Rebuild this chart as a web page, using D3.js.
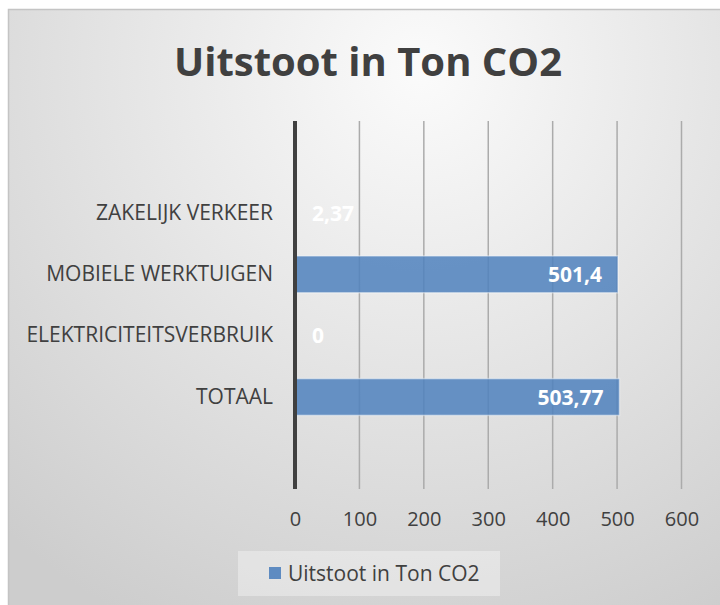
<!DOCTYPE html>
<html>
<head>
<meta charset="utf-8">
<script src="https://d3js.org/d3.v7.min.js"></script>
<style>
    html, body { margin: 0; padding: 0; background: #fff; }
    svg { display: block; }
</style>
</head>
<body>
<div id="chart"></div>
<script>
// Categories top to bottom (Excel had an empty row above and below)
const categories = ["", "ZAKELIJK VERKEER", "MOBIELE WERKTUIGEN", "ELEKTRICITEITSVERBRUIK", "TOTAAL", " "];
const values = [null, 2.37, 501.4, 0, 503.77, null];
const valueLabels = [null, "2,37", "501,4", "0", "503,77", null];
const xTicks = [0, 100, 200, 300, 400, 500, 600];
const title = "Uitstoot in Ton CO2";
const seriesName = "Uitstoot in Ton CO2";

const W = 720, H = 605;
const margin = { top: 121, right: 38, bottom: 116, left: 295 };
const width = 681.5 - margin.left;
const height = 489 - margin.top;

const svg = d3.select("#chart").append("svg")
    .attr("width", W)
    .attr("height", H);

// background gradient
const defs = svg.append("defs");
const grad = defs.append("radialGradient")
    .attr("id", "bg")
    .attr("gradientUnits", "userSpaceOnUse")
    .attr("cx", 420).attr("cy", 70).attr("r", 620);
grad.append("stop").attr("offset", "0%").attr("stop-color", "#fbfbfb");
grad.append("stop").attr("offset", "100%").attr("stop-color", "#cdcdcd");

svg.append("rect")
    .attr("x", 8.5).attr("y", 9.5)
    .attr("width", W + 2).attr("height", H + 2)
    .attr("fill", "url(#bg)")
    .attr("stroke", "#c4c4c4")
    .attr("stroke-width", 1.5);

svg.append("text")
    .attr("x", 368)
    .attr("y", 76)
    .attr("text-anchor", "middle")
    .attr("font-family", "'Open Sans', sans-serif")
    .attr("font-weight", "bold")
    .attr("font-size", 40)
    .attr("fill", "#404040")
    .text(title);

const g = svg.append("g")
    .attr("transform", `translate(${margin.left},${margin.top})`);

const x = d3.scaleLinear()
    .domain([0, 600])
    .range([0, width]);

const y = d3.scaleBand()
    .domain(categories)
    .range([0, height])
    .paddingInner(0.4)
    .paddingOuter(0.2);

// gridlines
g.append("g")
    .selectAll("line")
    .data(xTicks.slice(1))
    .enter().append("line")
    .attr("x1", d => x(d)).attr("x2", d => x(d))
    .attr("y1", 0).attr("y2", height)
    .attr("stroke", "#ababab")
    .attr("stroke-width", 1.5);

// bars
const rows = categories.map((c, i) => ({ cat: c, v: values[i], label: valueLabels[i] }))
    .filter(d => d.v !== null);

g.append("g")
    .selectAll("rect")
    .data(rows)
    .enter().append("rect")
    .attr("x", x(0))
    .attr("y", d => y(d.cat))
    .attr("width", d => x(d.v) - x(0))
    .attr("height", y.bandwidth())
    .attr("fill", "rgba(79,129,189,0.85)")
    .attr("stroke", "rgba(255,255,255,0.45)")
    .attr("stroke-width", 1.5);

// value labels (inside end, or just right of the axis for tiny bars)
g.append("g")
    .selectAll("text")
    .data(rows)
    .enter().append("text")
    .attr("x", d => (x(d.v) - x(0) > 80) ? x(d.v) - 16 : x(0) + 17)
    .attr("y", d => y(d.cat) + y.bandwidth() / 2)
    .attr("dy", "0.36em")
    .attr("text-anchor", d => (x(d.v) - x(0) > 80) ? "end" : "start")
    .attr("font-family", "'Open Sans', sans-serif")
    .attr("font-weight", "bold")
    .attr("font-size", 21)
    .attr("fill", "#ffffff")
    .text(d => d.label);

// vertical category axis line
g.append("line")
    .attr("x1", x(0)).attr("x2", x(0))
    .attr("y1", 0).attr("y2", height)
    .attr("stroke", "#404040")
    .attr("stroke-width", 4);

// category labels
const yAxis = g.append("g")
    .call(d3.axisLeft(y).tickSize(0).tickPadding(22));
yAxis.select(".domain").remove();
yAxis.selectAll("text")
    .attr("font-family", "'Open Sans', sans-serif")
    .attr("font-size", 21)
    .attr("fill", "#404040");

// x axis labels
const xAxis = g.append("g")
    .attr("transform", `translate(0,${height})`)
    .call(d3.axisBottom(x).tickValues(xTicks).tickSize(0).tickPadding(23));
xAxis.select(".domain").remove();
xAxis.selectAll("text")
    .attr("font-family", "'Open Sans', sans-serif")
    .attr("font-size", 20)
    .attr("fill", "#404040");

// legend
const legend = svg.append("g").attr("transform", "translate(238,551)");
legend.append("rect")
    .attr("width", 262).attr("height", 45)
    .attr("fill", "rgba(255,255,255,0.35)");
legend.append("rect")
    .attr("x", 31).attr("y", 16)
    .attr("width", 12).attr("height", 12)
    .attr("fill", "rgba(79,129,189,0.9)");
legend.append("text")
    .attr("x", 50).attr("y", 22.5)
    .attr("dy", "0.35em")
    .attr("font-family", "'Open Sans', sans-serif")
    .attr("font-size", 21)
    .attr("fill", "#404040")
    .text(seriesName);
</script>
</body>
</html>
